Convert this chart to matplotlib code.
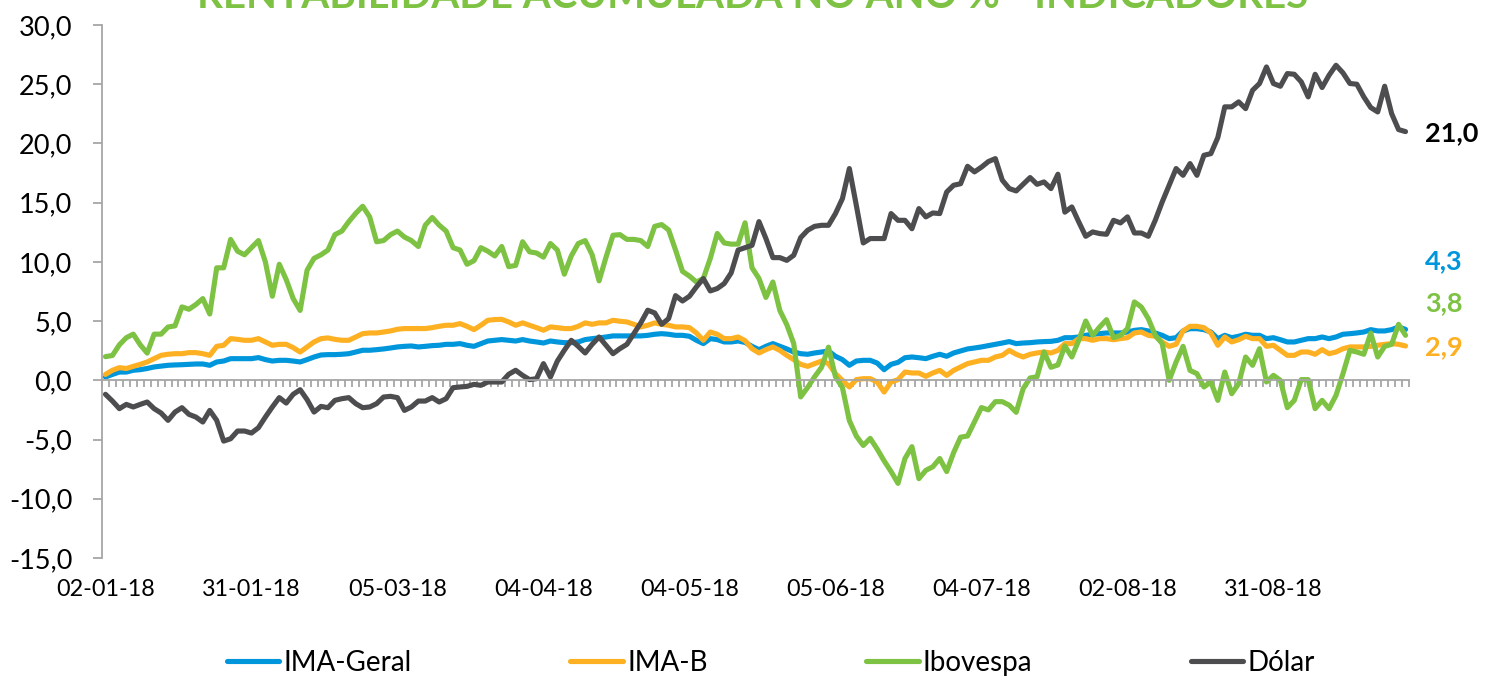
#!/usr/bin/env python3
"""Rentabilidade acumulada no ano (%) - indicadores, 2018."""

from __future__ import annotations

import matplotlib

matplotlib.use("Agg")
import matplotlib.pyplot as plt
import matplotlib.transforms as mtransforms
import numpy as np
from matplotlib.ticker import FuncFormatter

TITLE = "RENTABILIDADE ACUMULADA NO ANO % - INDICADORES"

# one value per business day, 02-01-18 .. 28-09-18
ima_geral = [
    0.28, 0.5, 0.7, 0.7, 0.85, 0.9, 1.0, 1.13, 1.2, 1.27,
    1.3, 1.32, 1.35, 1.38, 1.38, 1.27, 1.55, 1.63, 1.83, 1.83,
    1.83, 1.83, 1.92, 1.75, 1.63, 1.69, 1.69, 1.63, 1.55, 1.75,
    1.97, 2.14, 2.17, 2.17, 2.2, 2.25, 2.39, 2.54, 2.54, 2.59,
    2.65, 2.73, 2.82, 2.87, 2.9,
    2.82, 2.87, 2.93, 2.96, 3.04, 3.04, 3.1, 2.96, 2.87, 3.1,
    3.32, 3.38, 3.44, 3.38, 3.32, 3.44, 3.32, 3.24, 3.15, 3.32,
    3.24, 3.18, 3.18, 3.24, 3.44, 3.52, 3.58, 3.66, 3.75, 3.75,
    3.75, 3.75, 3.75, 3.8, 3.89, 3.94, 3.89, 3.8, 3.8, 3.72,
    3.38, 3.1, 3.52, 3.44, 3.24, 3.24, 3.32,
    3.2, 2.87, 2.59, 2.87, 3.1, 2.87, 2.65, 2.39, 2.25, 2.2,
    2.31, 2.39, 2.48, 2.03, 1.75, 1.27, 1.63, 1.69, 1.69, 1.46,
    0.9, 1.35, 1.52, 1.91, 1.97, 1.91, 1.83, 2.03, 2.2, 2.03,
    2.31, 2.48, 2.65, 2.73, 2.82, 2.93, 3.04, 3.15, 3.27, 3.1,
    3.15, 3.18, 3.24, 3.27, 3.29, 3.38, 3.6,
    3.6, 3.66, 3.8, 3.89, 3.94, 4.0, 4.0, 4.0, 4.08, 4.22,
    4.28, 4.17, 4.0, 3.8, 3.52, 3.6, 4.17, 4.36, 4.36, 4.28,
    4.08, 3.52, 3.8, 3.6, 3.72, 3.89, 3.8, 3.8, 3.52, 3.6,
    3.43, 3.24, 3.24, 3.38, 3.52, 3.52, 3.66, 3.52, 3.66, 3.89,
    3.94, 4.0, 4.08, 4.28, 4.17, 4.17, 4.28, 4.5, 4.3,
]

ima_b = [
    0.5, 0.85, 1.07, 1.0, 1.18, 1.35, 1.55, 1.83, 2.11, 2.2,
    2.25, 2.25, 2.34, 2.34, 2.25, 2.11, 2.87, 2.96, 3.52, 3.46,
    3.38, 3.38, 3.52, 3.24, 2.96, 3.04, 3.04, 2.76, 2.39, 2.82,
    3.24, 3.52, 3.58, 3.46, 3.38, 3.38, 3.66, 3.94, 4.0, 4.0,
    4.08, 4.17, 4.31, 4.37, 4.37,
    4.37, 4.37, 4.45, 4.56, 4.65, 4.65, 4.79, 4.56, 4.28, 4.65,
    5.07, 5.13, 5.15, 4.93, 4.65, 4.85, 4.65, 4.45, 4.23, 4.51,
    4.45, 4.37, 4.37, 4.56, 4.85, 4.73, 4.85, 4.85, 5.07, 4.99,
    4.93, 4.73, 4.51, 4.65, 4.85, 4.73, 4.65, 4.51, 4.51, 4.45,
    4.0, 3.38, 4.08, 3.89, 3.52, 3.52, 3.66,
    3.35, 2.67, 2.31, 2.59, 2.82, 2.53, 2.11, 1.75, 1.35, 1.18,
    1.41, 1.63, 1.41, 0.56, 0.0, -0.56, 0.06, 0.14, 0.14, -0.14,
    -0.99, -0.14, 0.06, 0.7, 0.62, 0.62, 0.34, 0.62, 0.84, 0.42,
    0.84, 1.13, 1.41, 1.55, 1.69, 1.69, 1.97, 2.11, 2.53, 2.2,
    1.97, 2.2, 2.31, 2.39, 2.31, 2.53, 3.1,
    3.1, 3.52, 3.52, 3.38, 3.52, 3.52, 3.43, 3.52, 3.6, 4.0,
    4.08, 3.8, 3.72, 3.24, 2.87, 3.04, 4.17, 4.56, 4.56, 4.45,
    4.0, 2.96, 3.66, 3.24, 3.43, 3.72, 3.52, 3.52, 2.87, 2.96,
    2.53, 2.11, 2.11, 2.39, 2.39, 2.2, 2.59, 2.25, 2.39, 2.67,
    2.82, 2.82, 2.82, 2.87, 2.96, 3.04, 3.1, 3.04, 2.9,
]

ibovespa = [
    2.0, 2.1, 3.0, 3.6, 3.9, 3.0, 2.3, 3.9, 3.9, 4.5,
    4.6, 6.2, 6.0, 6.4, 6.9, 5.6, 9.5, 9.5, 11.9, 10.9,
    10.6, 11.2, 11.8, 10.0, 7.1, 9.8, 8.5, 6.9, 5.9, 9.3,
    10.3, 10.6, 11.0, 12.3, 12.6, 13.4, 14.1, 14.7, 13.8, 11.7,
    11.8, 12.3, 12.6, 12.1, 11.8,
    11.3, 13.1, 13.75, 13.1, 12.6, 11.2, 11.0, 9.8, 10.1, 11.2,
    10.9, 10.5, 11.3, 9.6, 9.7, 11.7, 10.85, 10.75, 10.4, 11.55,
    11.0, 8.96, 10.5, 11.55, 11.8, 10.6, 8.4, 10.4, 12.25, 12.3,
    11.9, 11.9, 11.8, 11.3, 13.0, 13.15, 12.7, 11.0, 9.2, 8.8,
    8.3, 8.6, 10.3, 12.4, 11.6, 11.5, 11.5,
    13.3, 9.5, 8.6, 7.0, 8.3, 5.9, 4.7, 3.1, -1.4, -0.6,
    0.3, 1.1, 2.8, 0.3, -0.6, -3.4, -4.7, -5.5, -4.9, -5.8,
    -6.8, -7.7, -8.7, -6.6, -5.6, -8.3, -7.6, -7.3, -6.6, -7.7,
    -6.1, -4.8, -4.7, -3.5, -2.3, -2.5, -1.8, -1.8, -2.1, -2.7,
    -0.7, 0.2, 0.3, 2.4, 1.1, 1.3, 2.9,
    1.97, 3.38, 5.01, 3.8, 4.5, 5.12, 3.6, 3.8, 4.36, 6.62,
    6.19, 5.21, 3.8, 3.1, 0.0, 1.55, 2.87, 0.84, 0.56, -0.56,
    -0.14, -1.69, 0.7, -1.13, -0.28, 1.97, 1.27, 2.67, -0.14, 0.42,
    0.0, -2.31, -1.69, 0.06, 0.06, -2.39, -1.69, -2.39, -1.27, 0.56,
    2.53, 2.39, 2.2, 3.99, 1.97, 2.87, 3.04, 4.73, 3.8,
]

dolar = [
    -1.18, -1.75, -2.39, -2.03, -2.25, -2.03, -1.83, -2.39, -2.76, -3.38,
    -2.68, -2.31, -2.87, -3.1, -3.52, -2.54, -3.38, -5.13, -4.93, -4.28,
    -4.28, -4.45, -4.0, -3.1, -2.25, -1.46, -1.92, -1.18, -0.79, -1.63,
    -2.68, -2.2, -2.31, -1.69, -1.55, -1.46, -1.97, -2.31, -2.25, -1.97,
    -1.41, -1.35, -1.46, -2.54, -2.25,
    -1.75, -1.75, -1.46, -1.83, -1.55, -0.62, -0.56, -0.51, -0.34, -0.42,
    -0.14, -0.14, -0.14, 0.51, 0.85, 0.42, 0.06, 0.14, 1.41, 0.28,
    1.63, 2.54, 3.38, 2.87, 2.31, 3.04, 3.66, 2.96, 2.25, 2.68,
    3.04, 3.94, 4.85, 5.92, 5.69, 4.73, 5.21, 7.15, 6.7, 7.1,
    7.89, 8.59, 7.55, 7.75, 8.17, 9.07, 11.0,
    11.2, 11.4, 13.4, 11.97, 10.36, 10.36, 10.13, 10.56, 12.05, 12.67,
    13.0, 13.09, 13.09, 14.08, 15.34, 17.88, 14.78, 11.6, 11.97, 11.97,
    11.97, 14.08, 13.51, 13.51, 12.8, 14.5, 13.8, 14.13, 14.08, 15.9,
    16.47, 16.6, 18.07, 17.6, 18.0, 18.47, 18.72, 16.9, 16.19, 15.99,
    16.55, 17.12, 16.55, 16.75, 16.19, 17.4, 14.2,
    14.64, 13.37, 12.16, 12.53, 12.39, 12.33, 13.51, 13.29, 13.8, 12.44,
    12.44, 12.16, 13.51, 15.06, 16.47, 17.88, 17.31, 18.3, 17.31, 19.0,
    19.14, 20.5, 23.09, 23.09, 23.51, 22.94, 24.49, 25.06, 26.46, 25.06,
    24.83, 25.9, 25.84, 25.2, 23.93, 25.84, 24.72, 25.76, 26.6, 25.96,
    25.06, 25.0, 23.93, 23.03, 22.66, 24.83, 22.52, 21.17, 21.0,
]

series_names = ["IMA-Geral", "IMA-B", "Ibovespa", "Dólar"]
tick_labels = [
    "02-01-18", "31-01-18", "05-03-18", "04-04-18", "04-05-18",
    "05-06-18", "04-07-18", "02-08-18", "31-08-18",
]
tick_step = 21  # business days between labels

COLORS = ["#0096DB", "#FDB022", "#7DC242", "#4D4D4F"]
AXIS_GRAY = "#A6A6A6"
FONT = ["Lato", "DejaVu Sans"]


def fmt_comma(value: float) -> str:
    return f"{value:.1f}".replace(".", ",")


def main() -> None:
    plt.rcParams["font.family"] = FONT
    data = [ima_geral, ima_b, ibovespa, dolar]
    n = len(dolar)
    x = np.arange(n)

    fig = plt.figure(figsize=(14.88, 6.78), dpi=100)
    ax = fig.add_axes([102 / 1488, 1 - 558 / 678, (1409 - 102) / 1488, (558 - 25) / 678])

    for values, name, color in zip(data, series_names, COLORS):
        ax.plot(x, values, color=color, linewidth=3.7, label=name,
                solid_capstyle="round", solid_joinstyle="round")

    ax.set_xlim(-0.5, n - 0.5)
    ax.set_ylim(-15, 30)
    ax.set_yticks(np.arange(-15, 31, 5))
    ax.yaxis.set_major_formatter(FuncFormatter(lambda v, _: fmt_comma(v)))

    for side in ("top", "right"):
        ax.spines[side].set_visible(False)
    ax.spines["left"].set_color(AXIS_GRAY)
    ax.spines["left"].set_linewidth(1.3)
    ax.spines["bottom"].set_position(("data", 0))
    ax.spines["bottom"].set_color(AXIS_GRAY)
    ax.spines["bottom"].set_linewidth(1.3)

    ax.tick_params(axis="y", direction="out", length=6.5, width=1.3, color=AXIS_GRAY,
                   pad=15, labelsize=19.5, labelcolor="black")
    ax.set_xticks([])
    ax.set_xticks(np.arange(n + 1) - 0.5, minor=True)
    ax.tick_params(axis="x", which="minor", direction="out", length=5, width=1.3,
                   color=AXIS_GRAY, labelbottom=False)

    trans = mtransforms.blended_transform_factory(ax.transData, ax.transAxes)
    for k, label in enumerate(tick_labels):
        ax.text(k * tick_step, -0.06, label, transform=trans, ha="center", va="center",
                fontsize=16.8)

    # end-of-period labels (positions moved apart as in the original)
    end_y = [10.1, 2.8, 6.5, 20.86]
    for values, ypos, color in zip(data, end_y, [COLORS[0], COLORS[1], COLORS[2], "#000000"]):
        ax.text(n + 1.8, ypos, fmt_comma(values[-1]), color=color, fontsize=19.5,
                fontweight="bold", ha="left", va="center", clip_on=False)

    # the title sits mostly above the canvas, as in the source image
    fig.text(0.506, 1 - 8 / 678, TITLE, color="#7DC242", fontsize=29, fontweight="bold",
             ha="center", va="baseline")

    leg = fig.legend(loc="center", bbox_to_anchor=(0.518, 1 - 663 / 678), ncol=4,
                     frameon=False, fontsize=20, handlelength=1.9, handletextpad=0.15,
                     columnspacing=5.7)
    for line in leg.get_lines():
        line.set_linewidth(3.7)
        line.set_solid_capstyle("round")

    fig.savefig("out.png", dpi=100)
    plt.close(fig)


if __name__ == "__main__":
    main()
